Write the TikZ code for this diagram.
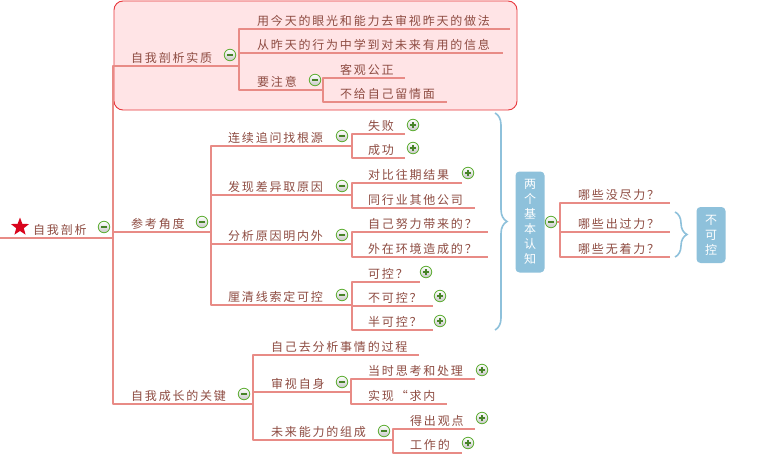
\documentclass[tikz,border=0pt]{standalone}
\usepackage{fontspec}
\setmainfont{Noto Sans CJK SC}
\newfontfamily\spacedcjk[LetterSpace=15]{Noto Sans CJK SC}
\usepackage{tikz}
\usetikzlibrary{shapes.geometric,decorations.pathreplacing}
\definecolor{txtbrown}{HTML}{8E4C42}
\definecolor{branchred}{HTML}{E88B86}
\definecolor{boxfill}{HTML}{FFE4E6}
\definecolor{boxedge}{HTML}{E8383D}
\definecolor{skyblue}{HTML}{8EC1DB}
\definecolor{icongreen}{HTML}{5FAE35}
\definecolor{starred}{HTML}{D9041C}
\tikzset{
  topic/.style={anchor=south west,inner xsep=0pt,inner ysep=2.6pt,text=txtbrown,font=\spacedcjk\fontsize{12}{14}\selectfont},
  branch/.style={draw=branchred,line width=2.2pt,line join=round},
  region/.style={draw=boxedge,line width=0.9pt,fill=boxfill,rounded corners=9pt},
  bluebox/.style={fill=skyblue,rounded corners=4pt,text=white,align=center,inner sep=0pt,minimum width=29pt,font=\fontsize{12}{15}\selectfont},
  bluebrace/.style={draw=skyblue,line width=1.6pt,decorate,decoration={brace,amplitude=12pt}},
  icon/.style={circle,minimum size=11.5pt,inner sep=0pt,draw=icongreen,line width=0.8pt,top color=white,bottom color=black!22},
  minusicon/.style={icon,path picture={
    \draw[icongreen!75!black,line width=1.2pt] ([xshift=-3pt]path picture bounding box.center) -- ([xshift=3pt]path picture bounding box.center);}},
  plusicon/.style={icon,path picture={
    \draw[icongreen!75!black,line width=1.2pt] ([xshift=-3pt]path picture bounding box.center) -- ([xshift=3pt]path picture bounding box.center)
      ([yshift=-3pt]path picture bounding box.center) -- ([yshift=3pt]path picture bounding box.center);}}
}
\begin{document}
\begin{tikzpicture}[x=1pt,y=-1pt]
  \useasboundingbox (0,0) rectangle (760,460);
  \fill[white] (0,0) rectangle (760,460);

  % highlighted region round the first branch
  \draw[region] (114,1) rectangle (517,110);

  % root
  \node[star,star points=5,star point ratio=2.4,fill=starred,minimum size=19pt,inner sep=0pt] (rootstar) at (20,227) {};
  \node[topic] (root) at (33,238) {自我剖析};
  \node[minusicon] (rootm) at (104,227) {};
  \coordinate (rootL) at (0,238);
  \coordinate (rootE) at (113,238);
  \draw[branch] (rootL) -- (rootE);

  % branch 1
  \node[topic] (essence) at (131,66) {自我剖析实质};
  \node[minusicon] (essencem) at (230,55) {};
  \coordinate (essenceE) at (239,66);
  \node[topic] (today) at (257,29) {用今天的眼光和能力去审视昨天的做法};
  \coordinate (todayE) at (510,29);
  \node[topic] (learn) at (257,53) {从昨天的行为中学到对未来有用的信息};
  \coordinate (learnE) at (503,53);
  \node[topic] (attention) at (257,90) {要注意};
  \node[minusicon] (attentionm) at (315,80) {};
  \coordinate (attentionE) at (323,90);
  \node[topic] (fair) at (340,78) {客观公正};
  \coordinate (fairE) at (405,78);
  \node[topic] (nomercy) at (340,102) {不给自己留情面};
  \coordinate (nomercyE) at (447,102);

  % branch 2
  \node[topic] (angle) at (131,232) {参考角度};
  \node[minusicon] (anglem) at (202,222) {};
  \coordinate (angleE) at (211,232);
  \node[topic] (rootcause) at (228,146) {连续追问找根源};
  \node[minusicon] (rootcausem) at (342,136) {};
  \coordinate (rootcauseE) at (352,146);
  \node[topic] (fail) at (368,134) {失败};
  \node[plusicon] (failp) at (413,125) {};
  \coordinate (failE) at (405,134);
  \node[topic] (success) at (368,158) {成功};
  \node[plusicon] (successp) at (413,148) {};
  \coordinate (successE) at (405,158);
  \node[topic] (diff) at (228,195) {发现差异取原因};
  \node[minusicon] (diffm) at (342,186) {};
  \coordinate (diffE) at (352,195);
  \node[topic] (past) at (368,183) {对比往期结果};
  \node[plusicon] (pastp) at (468,173) {};
  \coordinate (pastE) at (462,183);
  \node[topic] (peers) at (368,208) {同行业其他公司};
  \coordinate (peersE) at (475,208);
  \node[topic] (inout) at (228,244) {分析原因明内外};
  \node[minusicon] (inoutm) at (342,235) {};
  \coordinate (inoutE) at (352,244);
  \node[topic] (effort) at (368,232) {自己努力带来的？};
  \coordinate (effortE) at (488,232);
  \node[topic] (outside) at (368,257) {外在环境造成的？};
  \coordinate (outsideE) at (488,257);
  \node[topic] (control) at (228,305) {厘清线索定可控};
  \node[minusicon] (controlm) at (342,295) {};
  \coordinate (controlE) at (352,305);
  \node[topic] (can) at (368,282) {可控？};
  \node[plusicon] (canp) at (426,272) {};
  \coordinate (canE) at (420,282);
  \node[topic] (cannot) at (368,306) {不可控？};
  \node[plusicon] (cannotp) at (440,296) {};
  \coordinate (cannotE) at (433,306);
  \node[topic] (half) at (368,330) {半可控？};
  \node[plusicon] (halfp) at (440,321) {};
  \coordinate (halfE) at (433,330);

  % two basic insights
  \draw[bluebrace] (495,113) -- (495,330);
  \node[bluebox,minimum height=101pt] (insight) at (530,222) {两\\个\\基\\本\\认\\知};
  \node[minusicon] (insightm) at (551,222) {};
  \coordinate (insightJ) at (560,222);
  \node[topic] (notfull) at (578,203) {哪些没尽力？};
  \coordinate (notfullE) at (670,203);
  \node[topic] (tried) at (578,232) {哪些出过力？};
  \coordinate (triedE) at (670,232);
  \node[topic] (useless) at (578,257) {哪些无着力？};
  \coordinate (uselessE) at (670,257);
  \draw[bluebrace] (675,212) -- (675,257);
  \node[bluebox,minimum height=56pt] (uncontrol) at (711,235) {不\\可\\控};

  % branch 3
  \node[topic] (growth) at (131,404) {自我成长的关键};
  \node[minusicon] (growthm) at (244,394) {};
  \coordinate (growthE) at (253,404);
  \node[topic] (process) at (271,355) {自己去分析事情的过程};
  \coordinate (processE) at (419,355);
  \node[topic] (self) at (271,392) {审视自身};
  \node[minusicon] (selfm) at (342,382) {};
  \coordinate (selfE) at (351,392);
  \node[topic] (think) at (368,379) {当时思考和处理};
  \node[plusicon] (thinkp) at (482,370) {};
  \coordinate (thinkE) at (475,379);
  \node[topic] (inward) at (368,404) {实现“求内};
  \coordinate (inwardE) at (447,404);
  \node[topic] (future) at (271,440) {未来能力的组成};
  \node[minusicon] (futurem) at (384,431) {};
  \coordinate (futureE) at (393,440);
  \node[topic] (view) at (410,429) {得出观点};
  \node[plusicon] (viewp) at (482,418) {};
  \coordinate (viewE) at (475,429);
  \node[topic] (work) at (410,453) {工作的};
  \node[plusicon] (workp) at (468,443) {};
  \coordinate (workE) at (462,453);

  % connectors
  \draw[branch] (rootE) |- (essenceE);
  \draw[branch] (rootE) |- (angleE);
  \draw[branch] (rootE) |- (growthE);
  \draw[branch] (essenceE) |- (todayE);
  \draw[branch] (essenceE) |- (learnE);
  \draw[branch] (essenceE) |- (attentionE);
  \draw[branch] (attentionE) |- (fairE);
  \draw[branch] (attentionE) |- (nomercyE);
  \draw[branch] (angleE) |- (rootcauseE);
  \draw[branch] (angleE) |- (diffE);
  \draw[branch] (angleE) |- (inoutE);
  \draw[branch] (angleE) |- (controlE);
  \draw[branch] (rootcauseE) |- (failE);
  \draw[branch] (rootcauseE) |- (successE);
  \draw[branch] (diffE) |- (pastE);
  \draw[branch] (diffE) |- (peersE);
  \draw[branch] (inoutE) |- (effortE);
  \draw[branch] (inoutE) |- (outsideE);
  \draw[branch] (controlE) |- (canE);
  \draw[branch] (controlE) |- (cannotE);
  \draw[branch] (controlE) |- (halfE);
  \draw[branch] (insightm.east) -- (insightJ);
  \draw[branch] (insightJ) |- (notfullE);
  \draw[branch] (insightJ) |- (triedE);
  \draw[branch] (insightJ) |- (uselessE);
  \draw[branch] (growthE) |- (processE);
  \draw[branch] (growthE) |- (selfE);
  \draw[branch] (growthE) |- (futureE);
  \draw[branch] (selfE) |- (thinkE);
  \draw[branch] (selfE) |- (inwardE);
  \draw[branch] (futureE) |- (viewE);
  \draw[branch] (futureE) |- (workE);
\end{tikzpicture}
\end{document}
